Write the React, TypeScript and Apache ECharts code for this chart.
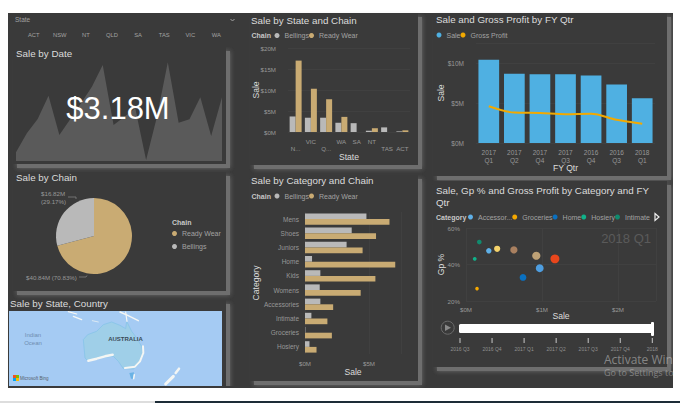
import React, { useEffect, useRef } from "react";
import * as echarts from "echarts";

const FONT = "Liberation Sans";
const TXT = "#dcdcdc";
const MUTED = "#a2a2a2";
const BG = "#3a3a3a";
const TAN = "#c9ab73";
const GREY = "#b9b9b9";

const slicerStates = ["ACT", "NSW", "NT", "QLD", "SA", "TAS", "VIC", "WA"];

const dateSales = [26, 83, 126, 196, 78, 125, 173, 223, 288, 108, 133, 158, 3, 133, 296, 115, 125, 191, 75, 191];
const dateIndex = dateSales.map((_, i) => String(i + 1));
const totalLabel = "$3.18M";

const chainNames = ["Ready Wear", "Bellings"];
const chainSales = [40.84, 16.82];

const states = ["NSW", "VIC", "QLD", "WA", "SA", "NT", "TAS", "ACT"];
const stateTickLabels = ["\nN...", "VIC", "\nQ...", "WA", "SA", "NT", "\nTAS", "\nACT"];
const stateBellings = [3.7, 3.4, 3.4, 2.2, 2.1, 0.3, 1.1, 0.15];
const stateReady = [17.0, 10.3, 7.8, 3.6, 0, 0.9, 0, 0.4];

const categories = ["Mens", "Shoes", "Juniors", "Home", "Kids", "Womens", "Accessories", "Intimate", "Groceries", "Hosiery"];
const catBellings = [4.8, 3.65, 3.25, 0.55, 1.2, 1.15, 1.2, 0.5, 0.03, 0.35];
const catReady = [6.6, 5.55, 4.5, 7.05, 5.5, 4.35, 2.2, 1.75, 2.1, 0.9];

const quarters = ["2017\nQ1", "2017\nQ2", "2017\nQ4", "2017\nQ3", "2016\nQ4", "2016\nQ3", "2018\nQ1"];
const qtrSale = [10.4, 8.67, 8.6, 8.6, 8.45, 7.3, 5.6];
const qtrProfit = [4.6, 3.8, 3.75, 3.6, 3.65, 2.9, 2.4];

const bubbleNames = ["Accessories", "Groceries", "Home", "Hosiery", "Intimate", "Juniors", "Kids", "Mens", "Shoes", "Womens"];
const bubbleLegendNames = ["Accessories", "Groceries", "Home", "Hosiery", "Intimate"];
const bubbleColors = ["#5fb0e8", "#f5a800", "#0a70c0", "#10b28a", "#118a6e", "#f5d36b", "#a98060", "#e8461c", "#bda176", "#4e9ee0"];
const bubbleSale = [0.3, 0.145, 0.75, 0.115, 0.175, 0.41, 0.63, 1.17, 0.925, 0.97];
const bubbleGp = [47.5, 26.8, 32.9, 43.1, 52.3, 48.6, 48, 43.1, 44.8, 38];
const bubbleProfit = [0.14, 0.04, 0.25, 0.05, 0.09, 0.2, 0.3, 0.5, 0.41, 0.37];

const timelineTicks = ["2016 Q3", "2016 Q4", "2017 Q1", "2017 Q2", "2017 Q3", "2017 Q4", "2018"];

const money = (v: number) => `$${v}M`;

function panel(x0: number, y0: number, x1: number, y1: number) {
  return [
    {
      type: "rect", z: -8,
      shape: { x: x0 + 4, y: y0 + 4, width: x1 - x0, height: y1 - y0 },
      style: { fill: "#6e6e6e", shadowBlur: 5, shadowColor: "#6e6e6e" },
    },
    { type: "rect", z: -7, shape: { x: x0, y: y0, width: x1 - x0, height: y1 - y0 }, style: { fill: BG } },
  ];
}

function label(text: string, x: number, y: number, size: number, color: string, extra: any = {}) {
  return {
    type: "text", z: 5, x, y,
    style: { text, fill: color, fontFamily: FONT, fontSize: size, verticalAlign: "middle", align: "left", ...extra },
  };
}

// map helpers: coordinates measured in a 3x crop whose origin is (5,308)
const mp = (pts: number[][]) => pts.map(([x, y]) => [x / 3 + 5, y / 3 + 308]);
const poly = (pts: number[][], fill: string, stroke?: string) => ({
  type: "polygon", z: -3, shape: { points: mp(pts) }, style: { fill, stroke, lineWidth: stroke ? 1 : 0 },
});
const coast = (pts: number[][], w: number, color = "#f4f6f4") => ({
  type: "polyline", z: -3, shape: { points: mp(pts) }, style: { stroke: color, lineWidth: w, fill: "none", lineCap: "round", lineJoin: "round" },
});
const leader = (points: number[][]) => ({
  type: "polyline", z: 5, shape: { points }, style: { stroke: "#8a8a8a", lineWidth: 0.7, fill: "none" },
});

function buildGraphic() {
  const tlX = (i: number) => 460 + i * 32.05;
  const els: any[] = [
    { type: "rect", z: -10, shape: { x: 0, y: 0, width: 680, height: 403 }, style: { fill: "#ffffff" } },
    { type: "rect", z: -10, shape: { x: 8, y: 13, width: 665, height: 375 }, style: { fill: BG } },
    ...panel(13, 47, 226, 164),
    ...panel(13, 172, 226, 291),
    ...panel(9, 300, 226, 392),
    ...panel(250, 13, 418, 165),
    ...panel(250, 175, 418, 381),
    ...panel(433, 13, 667, 176),
    ...panel(433, 181, 667, 367),
    // cover what lies below the dashboard
    { type: "rect", z: -6, shape: { x: 8, y: 386, width: 240, height: 2 }, style: { fill: BG } },
    { type: "rect", z: -6, shape: { x: 0, y: 388, width: 680, height: 13 }, style: { fill: "#ffffff" } },
    { type: "rect", z: -6, shape: { x: 673, y: 0, width: 7, height: 403 }, style: { fill: "#ffffff" } },
    { type: "rect", z: -5, shape: { x: 0, y: 401, width: 155, height: 2 }, style: { fill: "#dddddd" } },
    { type: "rect", z: -5, shape: { x: 155, y: 401, width: 525, height: 2 }, style: { fill: "#1d2c37" } },
    // slicer
    { type: "rect", z: -6, shape: { x: 8, y: 13, width: 236, height: 34 }, style: { fill: BG } },
    label("State", 15, 19.5, 6.5, MUTED),
    { type: "polyline", z: 5, shape: { points: [[230.5, 19], [232.5, 21], [234.5, 19]] }, style: { stroke: MUTED, lineWidth: 1, fill: "none" } },
    ...slicerStates.map((s, i) => label(s, 33.7 + i * 26.1, 35, 5.8, MUTED, { align: "center" })),
    // map
    { type: "rect", z: -4, shape: { x: 9, y: 311, width: 213, height: 75 }, style: { fill: "#a5cbf3" } },
    poly([[235, 95], [248, 80], [275, 70], [295, 50], [320, 42], [345, 52], [362, 62], [365, 40], [380, 70], [395, 90], [410, 115], [415, 140], [400, 170], [385, 183], [355, 182], [340, 160], [325, 145], [290, 148], [250, 160], [240, 150]], "#9fcfe8", "#8cc6ea"),
    coast([[250, 158], [275, 152], [300, 145], [323, 140]], 2.5),
    coast([[360, 180], [390, 176], [405, 160], [415, 135], [414, 115]], 2),
    coast([[482, 228], [505, 205]], 3),
    coast([[512, 195], [522, 182]], 2.5),
    coast([[205, 25], [230, 35]], 1.2),
    coast([[190, 11], [215, 18]], 1.2),
    coast([[345, 12], [368, 22], [400, 38]], 1.5),
    coast([[362, 12], [366, 40]], 1.2),
    coast([[262, 38], [280, 42]], 0.7),
    poly([[373, 195], [387, 193], [384, 212], [378, 212]], "#6ab2e4"),
    coast([[388, 200], [386, 212]], 1.5),
    label("Indian", 33, 335, 6, "#6f8db0", { align: "center" }),
    label("Ocean", 33, 342.5, 6, "#6f8db0", { align: "center" }),
    label("AUSTRALIA", 125.5, 339, 6, "#3a4a55", { align: "center", fontWeight: "bold" }),
    { type: "rect", z: 4, shape: { x: 13, y: 375, width: 3, height: 3 }, style: { fill: "#f25022" } },
    { type: "rect", z: 4, shape: { x: 16, y: 375, width: 3, height: 3 }, style: { fill: "#7fba00" } },
    { type: "rect", z: 4, shape: { x: 13, y: 378, width: 3, height: 3 }, style: { fill: "#00a4ef" } },
    { type: "rect", z: 4, shape: { x: 16, y: 378, width: 3, height: 3 }, style: { fill: "#ffb900" } },
    label("Microsoft Bing", 20, 378, 4.5, "#55606a"),
    // pie leader lines
    leader([[68, 197], [76, 197], [76, 199]]),
    leader([[79, 277], [86, 277], [87, 275.5]]),
    // legend headings
    label("Chain", 172, 222, 7, "#c8c8c8", { fontWeight: "bold" }),
    label("Chain", 251.5, 35.5, 7, "#c8c8c8", { fontWeight: "bold" }),
    label("Chain", 251.5, 196, 7, "#c8c8c8", { fontWeight: "bold" }),
    label("Category", 436, 217, 7, "#c8c8c8", { fontWeight: "bold" }),
    // legend paging arrow
    { type: "polygon", z: 5, shape: { points: [[655, 213.5], [659, 217], [655, 220.5]] }, style: { fill: BG, stroke: "#eeeeee", lineWidth: 1.2 } },
    // play axis
    label("2018 Q1", 651, 238, 13, "#5a5a5a", { align: "right" }),
    { type: "circle", z: 5, shape: { cx: 447.7, cy: 327.7, r: 6.5 }, style: { fill: "none", stroke: "#6b6b6b", lineWidth: 1 } },
    { type: "polygon", z: 5, shape: { points: [[445, 324.5], [451, 327.7], [445, 331]] }, style: { fill: "#8a8a8a" } },
    { type: "rect", z: 5, shape: { x: 459, y: 324, width: 194, height: 9, r: 1.5 }, style: { fill: "#ffffff" } },
    { type: "rect", z: 6, shape: { x: 651, y: 322, width: 3, height: 14, r: 1 }, style: { fill: "#ffffff" } },
    ...timelineTicks.flatMap((t, i) => [
      { type: "rect", z: 5, shape: { x: tlX(i) - 0.5, y: 338, width: 1, height: 5 }, style: { fill: "#c8c8c8" } },
      label(t, tlX(i), 349, 5, "#8f8f8f", { align: "center" }),
    ]),
    // big card value
    {
      type: "text", z: 20, x: 118, y: 108,
      style: { text: totalLabel, fill: "#ffffff", fontFamily: FONT, fontSize: 31, align: "center", verticalAlign: "middle" },
    },
    // OS watermark
    {
      type: "text", z: 30, x: 604, y: 359,
      style: { text: "Activate Win", fill: "rgba(200,200,200,0.55)", fontFamily: "Open Sans", fontSize: 12, verticalAlign: "middle" },
    },
    {
      type: "text", z: 30, x: 604, y: 372.5,
      style: { text: "Go to Settings to", fill: "rgba(200,200,200,0.5)", fontFamily: "Open Sans", fontSize: 9, verticalAlign: "middle" },
    },
  ];
  return els;
}

const titleOf = (text: string, left: number, top: number) => ({
  text, left, top, padding: 0,
  textStyle: { color: TXT, fontFamily: FONT, fontSize: 9.8, fontWeight: "normal" as const, lineHeight: 12.5 },
});

const legendOf = (data: string[], left: number, top: number, extra: any = {}) => ({
  data, left, top, padding: 0, icon: "circle", itemWidth: 5, itemHeight: 5, itemGap: 0,
  textStyle: { color: MUTED, fontFamily: FONT, fontSize: 7 },
  selectedMode: false,
  ...extra,
});

const axisText = { color: "#989898", fontFamily: FONT, fontSize: 6.2 };
const nameText = { color: TXT, fontFamily: FONT, fontSize: 8.6 };
const faint = { show: true, lineStyle: { color: "#404040", width: 1 } };
const nameBase = { nameLocation: "middle" as const, nameTextStyle: nameText, nameMoveOverlap: false };

export default function App() {
  const ref = useRef<HTMLDivElement>(null);
  useEffect(() => {
    if (!ref.current) return;
    const chart = echarts.init(ref.current, undefined, { renderer: "svg" });
    const moneyAxis = { axisLine: { show: false }, axisTick: { show: false }, splitLine: faint, axisLabel: { ...axisText, formatter: (v: number) => money(v) } };
    const catAxis = { type: "category" as const, axisLine: { show: false }, axisTick: { show: false } };
    chart.setOption({
      animation: false,
      backgroundColor: "transparent",
      graphic: { elements: buildGraphic() },
      title: [
        titleOf("Sale by Date", 16, 47),
        titleOf("Sale by Chain", 16, 171),
        titleOf("Sale by State, Country", 10, 297),
        titleOf("Sale by State and Chain", 251, 14),
        titleOf("Sale by Category and Chain", 251, 174),
        titleOf("Sale and Gross Profit by FY Qtr", 436, 13),
        titleOf("Sale, Gp % and Gross Profit by Category and FY\nQtr", 436, 184),
      ],
      legend: [
        legendOf(chainNames, 172, 230, { orient: "vertical", itemGap: 6 }),
        legendOf(["Bellings", "Ready Wear"], 274.5, 32),
        legendOf(["Bellings", "Ready Wear"], 274.5, 192.5),
        legendOf(["Sale", "Gross Profit"], 436.5, 31.5),
        legendOf(bubbleLegendNames, 468, 213.5, {
          formatter: (n: string) => (n.length > 9 ? n.slice(0, 8) + "..." : n),
        }),
      ],
      grid: [
        { left: 16, top: 60, width: 206, height: 101 },
        { left: 288, top: 48, width: 122, height: 84 },
        { left: 305, top: 212, width: 96, height: 142 },
        { left: 476, top: 43, width: 179, height: 100 },
        { left: 466, top: 228, width: 190, height: 73 },
      ],
      xAxis: [
        { ...catAxis, gridIndex: 0, show: false, data: dateIndex, boundaryGap: false },
        {
          ...catAxis, ...nameBase, gridIndex: 1, data: states, name: "State", nameGap: 20,
          axisLabel: { ...axisText, interval: 0, lineHeight: 7, margin: 6, formatter: (_: string, i: number) => stateTickLabels[i] },
        },
        {
          type: "value", ...nameBase, gridIndex: 2, min: 0, max: 7.5, interval: 5, ...moneyAxis, name: "Sale", nameGap: 13,
          axisLabel: { ...moneyAxis.axisLabel, showMaxLabel: false, margin: 6 },
        },
        {
          ...catAxis, ...nameBase, gridIndex: 3, data: quarters, name: "FY Qtr", nameGap: 20,
          axisLabel: { ...axisText, fontSize: 6.5, interval: 0, lineHeight: 7.5, margin: 6 },
        },
        {
          type: "value", ...nameBase, gridIndex: 4, min: 0, max: 2.5, interval: 1, ...moneyAxis, name: "Sale", nameGap: 10,
          axisLabel: { ...moneyAxis.axisLabel, showMaxLabel: false, margin: 5 },
        },
      ],
      yAxis: [
        { type: "value", gridIndex: 0, show: false, min: 0, max: 303 },
        { type: "value", ...nameBase, gridIndex: 1, min: 0, max: 20, interval: 5, ...moneyAxis, name: "Sale", nameGap: 28, axisLabel: { ...moneyAxis.axisLabel, margin: 12 } },
        { ...catAxis, ...nameBase, gridIndex: 2, inverse: true, data: categories, name: "Category", nameGap: 45, axisLabel: { ...axisText, fontSize: 6.5, interval: 0, margin: 6 } },
        { type: "value", ...nameBase, gridIndex: 3, min: 0, max: 12.5, interval: 5, ...moneyAxis, name: "Sale", nameGap: 31, axisLabel: { ...moneyAxis.axisLabel, fontSize: 6.5, showMaxLabel: false, margin: 12 } },
        {
          type: "value", ...nameBase, gridIndex: 4, min: 20, max: 60, interval: 20, axisLine: { show: false }, axisTick: { show: false }, splitLine: faint,
          name: "Gp %", nameGap: 21,
          axisLabel: { ...axisText, margin: 6, formatter: (v: number) => `${v}%` },
        },
      ],
      series: [
        { type: "line", xAxisIndex: 0, yAxisIndex: 0, data: dateSales, symbol: "none", lineStyle: { width: 0 }, areaStyle: { color: "#5a5a5a", opacity: 1 }, silent: true },
        {
          type: "pie", name: "Sale by Chain", center: [94, 236], radius: 38, startAngle: 90, clockwise: true,
          percentPrecision: 2,
          data: chainNames.map((name, i) => ({ name, value: chainSales[i], itemStyle: { color: i === 0 ? TAN : GREY } })),
          label: {
            color: "#989898", fontFamily: FONT, fontSize: 6.2, lineHeight: 8,
            formatter: (p: any) => (p.dataIndex === 0 ? `${money(p.value)} (${p.percent}%)` : `${money(p.value)}\n(${p.percent}%)`),
          },
          labelLine: { show: true, length: 4, length2: 6, lineStyle: { opacity: 0 } },
          labelLayout: (p: any) => (p.dataIndex === 0 ? { x: 26, y: 277, align: "left", verticalAlign: "middle" } : { x: 41, y: 197, align: "left", verticalAlign: "middle" }),
        },
        { type: "bar", name: "Bellings", xAxisIndex: 1, yAxisIndex: 1, data: stateBellings, barWidth: 6, barGap: 0, itemStyle: { color: GREY } },
        { type: "bar", name: "Ready Wear", xAxisIndex: 1, yAxisIndex: 1, data: stateReady, barWidth: 6, barGap: 0, itemStyle: { color: TAN } },
        { type: "bar", name: "Bellings", xAxisIndex: 2, yAxisIndex: 2, data: catBellings, barWidth: 5.7, barGap: 0, itemStyle: { color: GREY } },
        { type: "bar", name: "Ready Wear", xAxisIndex: 2, yAxisIndex: 2, data: catReady, barWidth: 5.7, barGap: 0, itemStyle: { color: TAN } },
        { type: "bar", name: "Sale", xAxisIndex: 3, yAxisIndex: 3, data: qtrSale, barWidth: 20.7, itemStyle: { color: "#4fb0e2" } },
        { type: "line", name: "Gross Profit", xAxisIndex: 3, yAxisIndex: 3, data: qtrProfit, smooth: 0.3, symbol: "none", itemStyle: { color: "#f2a900" }, lineStyle: { color: "#f2a900", width: 2 } },
        ...bubbleNames.map((name, i) => ({
          type: "scatter", name, xAxisIndex: 4, yAxisIndex: 4,
          data: [[bubbleSale[i], bubbleGp[i], bubbleProfit[i]]],
          symbolSize: (v: number[]) => 1.5 + 10.5 * Math.sqrt(v[2]),
          itemStyle: { color: bubbleColors[i], opacity: 1 },
        })),
      ],
    });
    return () => chart.dispose();
  }, []);
  return <div ref={ref} style={{ position: "absolute", left: 0, top: 0, width: 680, height: 403 }} />;
}
